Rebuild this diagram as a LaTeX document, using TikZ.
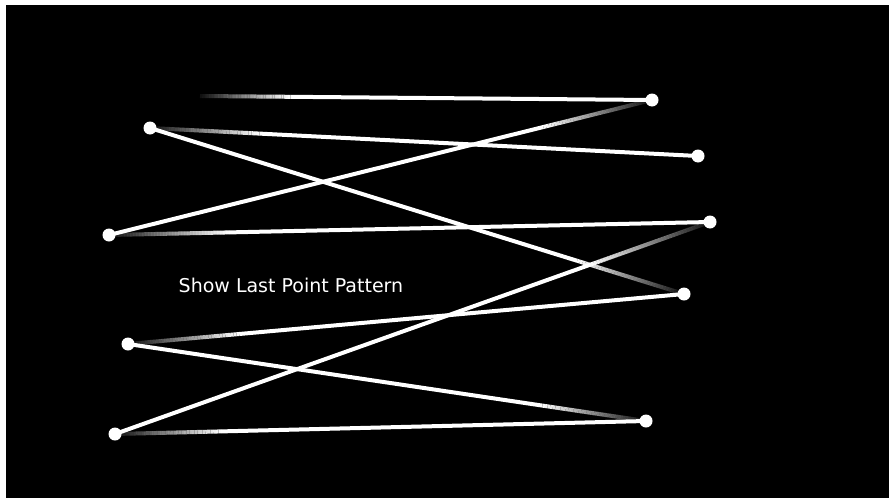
\documentclass[tikz,border=0pt]{standalone}
\usepackage{fontspec}
\setsansfont{DejaVu Sans}
\usetikzlibrary{calc}
\tikzset{
  dot/.style={circle,fill=white,inner sep=0pt,minimum size=13pt},
  seg/.style={white,line width=4pt},
  label/.style={text=white,font=\sffamily\fontsize{19}{22}\selectfont,inner sep=0pt,anchor=base west}
}
\newcommand\fadeseg[2]{%
  \foreach \i in {0,...,39}{%
    \pgfmathsetmacro\ta{\i/40*0.2}%
    \pgfmathsetmacro\tb{(\i+1)/40*0.2}%
    \pgfmathsetmacro\op{0.05+0.95*(\i+0.5)/40}%
    \draw[seg,line cap=butt,draw opacity=\op] ($(#1)!\ta!(#2)$) -- ($(#1)!\tb!(#2)$);
  }%
  \draw[seg,line cap=butt] ($(#1)!0.2!(#2)$) -- (#2);%
}
\begin{document}
\begin{tikzpicture}[x=1pt,y=-1pt]
  \useasboundingbox (0,0) rectangle (889,498);
  \fill[white] (0,0) rectangle (889,498);
  \fill[black] (6,5) rectangle (889,498);
  \coordinate (s) at (200,96);
  \coordinate (p1) at (652,100);
  \coordinate (p2) at (109,235);
  \coordinate (p3) at (710,222);
  \coordinate (p4) at (115,434);
  \coordinate (p5) at (646,421);
  \coordinate (p6) at (128,344);
  \coordinate (p7) at (684,294);
  \coordinate (p8) at (150,128);
  \coordinate (p9) at (698,156);
  \fadeseg{s}{p1}
  \fadeseg{p1}{p2}
  \fadeseg{p2}{p3}
  \fadeseg{p3}{p4}
  \fadeseg{p4}{p5}
  \fadeseg{p5}{p6}
  \fadeseg{p6}{p7}
  \fadeseg{p7}{p8}
  \fadeseg{p8}{p9}
  \foreach \p in {p1,p2,p3,p4,p5,p6,p7,p8,p9}{\node[dot] (d\p) at (\p) {};}
  \node[label] (t) at (178.5,292) {Show Last Point Pattern};
\end{tikzpicture}
\end{document}
